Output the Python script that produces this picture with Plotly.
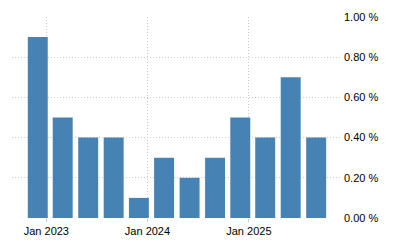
import plotly.graph_objects as go

dates = ["2022-12-01", "2023-03-01", "2023-06-01", "2023-09-01",
         "2023-12-01", "2024-03-01", "2024-06-01", "2024-09-01",
         "2024-12-01", "2025-03-01", "2025-06-01", "2025-09-01"]
values = [0.9, 0.5, 0.4, 0.4, 0.1, 0.3, 0.2, 0.3, 0.5, 0.4, 0.7, 0.4]
x_ticks = ["2023-01-01", "2024-01-01", "2025-01-01"]
x_tick_labels = ["Jan 2023", "Jan 2024", "Jan 2025"]
y_ticks = [0, 0.2, 0.4, 0.6, 0.8, 1.0]
y_tick_labels = ["0.00 %", "0.20 %", "0.40 %", "0.60 %", "0.80 %", "1.00 %"]

fig = go.Figure(go.Bar(
    x=dates, y=values,
    marker=dict(color="#4682B4", line=dict(width=0)),
    width=72 * 86400000,
))

fig.update_layout(
    width=400, height=250,
    margin=dict(l=12, r=60, t=17, b=32),
    paper_bgcolor="white", plot_bgcolor="white",
    showlegend=False,
    font=dict(family="Liberation Sans, Arial, sans-serif", size=11, color="#000"),
    xaxis=dict(
        range=["2022-08-30", "2025-11-26"],
        tickvals=x_ticks, ticktext=x_tick_labels,
        showgrid=True, gridcolor="#cccccc", griddash="1px,2px", gridwidth=1,
        zeroline=False, showline=False,
        ticks="outside", ticklen=3, tickcolor="#cccccc",
    ),
    yaxis=dict(
        side="right", range=[0, 1.0],
        tickvals=y_ticks, ticktext=y_tick_labels,
        showgrid=True, gridcolor="#cccccc", griddash="1px,2px", gridwidth=1,
        zeroline=False, showline=False, ticks="",
        ticklabelstandoff=3,
    ),
)
fig.write_html("out.html")
